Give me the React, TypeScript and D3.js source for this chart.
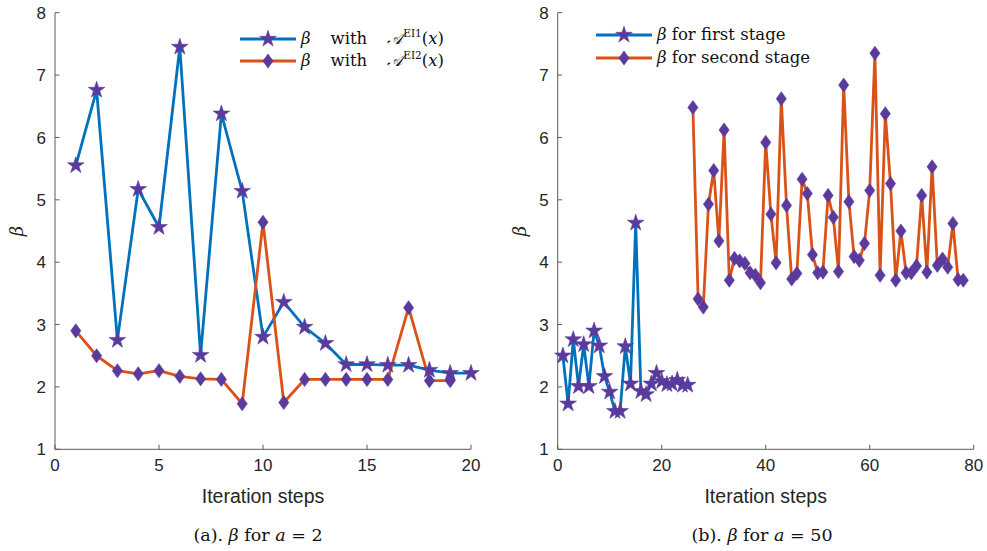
import React from "react";
import * as d3 from "d3";

// ---------- data ----------
const leftX1 = [1, 2, 3, 4, 5, 6, 7, 8, 9, 10, 11, 12, 13, 14, 15, 16, 17, 18, 19, 20];
const leftEI1 = [5.55, 6.76, 2.75, 5.17, 4.56, 7.45, 2.51, 6.38, 5.14, 2.8, 3.36, 2.96, 2.7, 2.36, 2.36, 2.35, 2.35, 2.27, 2.22, 2.22];
const leftX2 = [1, 2, 3, 4, 5, 6, 7, 8, 9, 10, 11, 12, 13, 14, 15, 16, 17, 18, 19];
const leftEI2 = [2.9, 2.5, 2.26, 2.21, 2.26, 2.17, 2.13, 2.12, 1.73, 4.64, 1.75, 2.12, 2.12, 2.12, 2.12, 2.12, 3.27, 2.1, 2.1];

const firstStageX = d3.range(1, 26);
const firstStage = [2.5, 1.73, 2.76, 2.01, 2.68, 2.01, 2.9, 2.66, 2.17, 1.92, 1.61, 1.61, 2.65, 2.05, 4.63, 1.93, 1.88, 2.05, 2.22, 2.09, 2.04, 2.05, 2.11, 2.03, 2.03];
const secondStageX = d3.range(26, 79);
const secondStage = [6.48, 3.41, 3.28, 4.93, 5.47, 4.34, 6.12, 3.71, 4.06, 4.02, 3.98, 3.83, 3.79, 3.67, 5.92, 4.77, 3.99, 6.62, 4.91, 3.73, 3.82, 5.33, 5.1, 4.12, 3.83, 3.84, 5.07, 4.72, 3.85, 6.84, 4.97, 4.09, 4.03, 4.3, 5.15, 7.35, 3.79, 6.38, 5.26, 3.71, 4.5, 3.83, 3.83, 3.94, 5.07, 3.84, 5.53, 3.95, 4.05, 3.92, 4.62, 3.72, 3.71];

const yTicks = [1, 2, 3, 4, 5, 6, 7, 8];
const leftXTicks = [0, 5, 10, 15, 20];
const rightXTicks = [0, 20, 40, 60, 80];

const BLUE = "#0072BD";
const ORANGE = "#D95319";
const MARK = "#5B3A9E";
const AXIS = "#5a5a5a";
const TXT = "#262626";
const SANS = "'Liberation Sans', Arial, sans-serif";
const SERIF = "'DejaVu Serif', 'Liberation Serif', serif";

const diamondType = {
  draw(ctx: any, size: number) {
    const h = Math.sqrt(size) * 0.93;
    const w = h * 0.72;
    ctx.moveTo(0, -h);
    ctx.lineTo(w, 0);
    ctx.lineTo(0, h);
    ctx.lineTo(-w, 0);
    ctx.closePath();
  },
};
const starPath = d3.symbol().type(d3.symbolStar).size(86)() as string;
const diamondPath = d3.symbol().type(diamondType as any).size(58)() as string;

type Series = { xs: number[]; ys: number[]; color: string; marker: "star" | "diamond" };

function Panel(props: {
  x0: number;
  x1: number;
  domain: [number, number];
  xTicks: number[];
  series: Series[];
}) {
  const { x0, x1, domain, xTicks, series } = props;
  const yTop = 12.7;
  const yBot = 449.3;
  const x = d3.scaleLinear().domain(domain).range([x0, x1]);
  const y = d3.scaleLinear().domain([1, 8]).range([yBot, yTop]);
  const line = d3
    .line<[number, number]>()
    .x((d) => x(d[0]))
    .y((d) => y(d[1]));
  return (
    <g>
      <line x1={x0} x2={x1} y1={yBot} y2={yBot} stroke={AXIS} strokeWidth={1} />
      <line x1={x0} x2={x0} y1={yTop} y2={yBot} stroke={AXIS} strokeWidth={1} />
      {yTicks.map((t) => (
        <g key={"y" + t}>
          <line x1={x0} x2={x0 + 4.5} y1={y(t)} y2={y(t)} stroke={AXIS} />
          <text x={x0 - 9} y={y(t)} dy="0.36em" textAnchor="end" fontFamily={SANS} fontSize={17} fill={TXT}>
            {t}
          </text>
        </g>
      ))}
      {xTicks.map((t) => (
        <g key={"x" + t}>
          <line x1={x(t)} x2={x(t)} y1={yBot} y2={yBot - 4.5} stroke={AXIS} />
          <text x={x(t)} y={yBot + 22} textAnchor="middle" fontFamily={SANS} fontSize={17} fill={TXT}>
            {t}
          </text>
        </g>
      ))}
      <text
        transform={`translate(${x0 - 32},${(yTop + yBot) / 2}) rotate(-90)`}
        textAnchor="middle"
        fontFamily={SERIF}
        fontStyle="italic"
        fontSize={18}
        fill={TXT}
      >
        β
      </text>
      <text x={(x0 + x1) / 2} y={yBot + 54} textAnchor="middle" fontFamily={SANS} fontSize={19.5} fill={TXT}>
        Iteration steps
      </text>
      {series.map((s, i) => {
        const pts = s.xs.map((v, k) => [v, s.ys[k]] as [number, number]);
        return (
          <path key={"s" + i} d={line(pts) as string} fill="none" stroke={s.color} strokeWidth={2.8} strokeLinejoin="round" />
        );
      })}
      {series.map((s, i) => (
        <g key={"m" + i}>
          {s.xs.map((v, k) => (
            <path
              key={k}
              d={s.marker === "star" ? starPath : diamondPath}
              transform={`translate(${x(v)},${y(s.ys[k])})`}
              fill={MARK}
              stroke={MARK}
              strokeWidth={0.6}
            />
          ))}
        </g>
      ))}
    </g>
  );
}

function LegendRow(props: { x: number; y: number; color: string; marker: "star" | "diamond"; children: React.ReactNode }) {
  const { x, y, color, marker, children } = props;
  return (
    <g>
      <line x1={x} x2={x + 56} y1={y} y2={y} stroke={color} strokeWidth={2.8} />
      <path d={marker === "star" ? starPath : diamondPath} transform={`translate(${x + 28},${y})`} fill={MARK} stroke={MARK} strokeWidth={0.6} />
      <text x={x + 61} y={y} dy="0.33em" fontFamily={SERIF} fontSize={16.5} fill="#111">
        {children}
      </text>
    </g>
  );
}

export default function App() {
  return (
    <svg width={987} height={551} style={{ position: "absolute", left: 0, top: 0, background: "#fff" }}>
      <rect width={987} height={551} fill="#fff" />
      <Panel
        x0={55}
        x1={471}
        domain={[0, 20]}
        xTicks={leftXTicks}
        series={[
          { xs: leftX1, ys: leftEI1, color: BLUE, marker: "star" },
          { xs: leftX2, ys: leftEI2, color: ORANGE, marker: "diamond" },
        ]}
      />
      <Panel
        x0={557.7}
        x1={973.7}
        domain={[0, 80]}
        xTicks={rightXTicks}
        series={[
          { xs: firstStageX, ys: firstStage, color: BLUE, marker: "star" },
          { xs: secondStageX, ys: secondStage, color: ORANGE, marker: "diamond" },
        ]}
      />
      <LegendRow x={240} y={39} color={BLUE} marker="star">
        <tspan fontStyle="italic">β</tspan>
        <tspan dx={20}>with</tspan>
        <tspan dx={20} fontStyle="italic">𝒜</tspan>
        <tspan fontSize={10.5} dy={-7}>EI1</tspan>
        <tspan dy={7}>(</tspan>
        <tspan fontStyle="italic">x</tspan>
        <tspan>)</tspan>
      </LegendRow>
      <LegendRow x={240} y={61} color={ORANGE} marker="diamond">
        <tspan fontStyle="italic">β</tspan>
        <tspan dx={20}>with</tspan>
        <tspan dx={20} fontStyle="italic">𝒜</tspan>
        <tspan fontSize={10.5} dy={-7}>EI2</tspan>
        <tspan dy={7}>(</tspan>
        <tspan fontStyle="italic">x</tspan>
        <tspan>)</tspan>
      </LegendRow>
      <LegendRow x={596} y={35} color={BLUE} marker="star">
        <tspan fontStyle="italic">β</tspan>
        <tspan> for first stage</tspan>
      </LegendRow>
      <LegendRow x={596} y={58} color={ORANGE} marker="diamond">
        <tspan fontStyle="italic">β</tspan>
        <tspan> for second stage</tspan>
      </LegendRow>
      <text x={258} y={541} textAnchor="middle" fontFamily={SERIF} fontSize={17.5} fill="#111">
        <tspan>(a). </tspan>
        <tspan fontStyle="italic">β</tspan>
        <tspan> for </tspan>
        <tspan fontStyle="italic">a</tspan>
        <tspan> = 2</tspan>
      </text>
      <text x={762} y={541} textAnchor="middle" fontFamily={SERIF} fontSize={17.5} fill="#111">
        <tspan>(b). </tspan>
        <tspan fontStyle="italic">β</tspan>
        <tspan> for </tspan>
        <tspan fontStyle="italic">a</tspan>
        <tspan> = 50</tspan>
      </text>
    </svg>
  );
}
